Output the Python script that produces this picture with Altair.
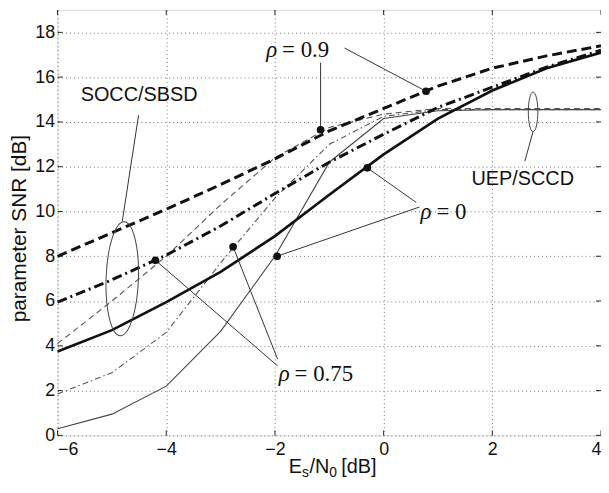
import altair as alt
import pandas as pd

# ---------------- data ----------------
x_vals = [-6, -5, -4, -3, -2, -1, 0, 1, 2, 3, 4]
socc_rho0 = [3.75, 4.7, 5.95, 7.3, 8.9, 10.75, 12.55, 14.15, 15.4, 16.4, 17.1]
socc_rho09 = [8.0, 9.05, 10.1, 11.2, 12.35, 13.6, 14.6, 15.6, 16.4, 16.95, 17.4]
socc_rho075 = [5.95, 6.95, 8.05, 9.35, 10.8, 12.2, 13.45, 14.65, 15.55, 16.45, 17.2]
uep_rho0 = [0.3, 0.95, 2.2, 4.65, 8.0, 12.2, 14.15, 14.5, 14.55, 14.55, 14.55]
uep_rho09 = [4.1, 6.0, 8.0, 10.3, 12.4, 13.75, 14.35, 14.6, 14.6, 14.6, 14.6]
uep_rho075 = [1.85, 2.8, 4.6, 7.7, 10.6, 13.0, 14.25, 14.55, 14.55, 14.55, 14.55]

x_ticks = [-6, -4, -2, 0, 2, 4]
y_ticks = [0, 2, 4, 6, 8, 10, 12, 14, 16, 18]

marker_x = [-1.16, 0.78, -0.30, -1.96, -4.20, -2.77]
marker_y = [13.65, 15.37, 11.95, 8.0, 7.82, 8.42]

leader_x1 = [-1.16, -0.72, 0.60, 0.66, -1.95, -1.95, -4.51, 2.60]
leader_y1 = [16.65, 17.30, 10.40, 10.20, 3.10, 3.40, 14.30, 12.25]
leader_x2 = [-1.16, 0.78, -0.30, -1.96, -4.20, -2.77, -4.81, 2.75]
leader_y2 = [13.65, 15.37, 11.95, 8.0, 7.82, 8.42, 9.55, 13.58]

group_text = ["SOCC/SBSD", "UEP/SCCD"]
group_x = [-4.5, 2.56]
group_y = [15.2, 11.43]

rho_value = ["= 0.9", "= 0", "= 0.75"]
rho_x = [-2.16, 0.68, -1.93]
rho_y = [17.23, 9.98, 2.72]

ellipse_x = [-4.81, 2.75]
ellipse_y = [7.0, 14.45]

# ---------------- layout ----------------
W, H = 548, 429

xs = alt.Scale(domain=[-6, 4], nice=False, zero=False)
ys = alt.Scale(domain=[0, 19], nice=False, zero=False)

X = alt.X("x:Q", scale=xs, axis=alt.Axis(
    values=x_ticks, title=None, grid=True, ticks=False, domain=False,
    labelFont="Liberation Sans", labelFontSize=18, labelColor="#111",
    labelPadding=5, gridDash=[1, 3], gridColor="#777", gridWidth=1))
Y = alt.Y("y:Q", scale=ys, axis=alt.Axis(
    values=y_ticks, title="parameter SNR [dB]", grid=True, ticks=False, domain=False,
    labelFont="Liberation Sans", labelFontSize=18, labelColor="#111",
    labelPadding=3, gridDash=[1, 3], gridColor="#777", gridWidth=1,
    titleFont="Liberation Sans", titleFontSize=21, titleFontWeight="normal",
    titleColor="#111", titleAngle=270, titleX=-38, titleY=220,
    titleAlign="center", titleBaseline="middle"))


def series(vals):
    return pd.DataFrame({"x": x_vals, "y": vals})


def line(vals, width, dash, color):
    kw = dict(strokeWidth=width, color=color)
    if dash:
        kw["strokeDash"] = dash
    return alt.Chart(series(vals)).mark_line(**kw).encode(x=X, y=Y)


layers = [
    line(uep_rho0, 1.1, None, "#444"),
    line(uep_rho09, 1.1, [6, 4], "#555"),
    line(uep_rho075, 1.1, [6, 3, 1.5, 3], "#555"),
    line(socc_rho0, 2.7, None, "#111"),
    line(socc_rho09, 3.0, [10, 5], "#111"),
    line(socc_rho075, 3.0, [10, 4, 2, 4], "#111"),
]

# inward ticks on all four sides
xt = pd.DataFrame({"x": x_ticks})
yt = pd.DataFrame({"y": y_ticks})
tick_style = dict(color="#222", strokeWidth=1)
layers += [
    alt.Chart(xt).mark_rule(**tick_style).encode(x=X, y=alt.value(H), y2=alt.value(H - 5)),
    alt.Chart(xt).mark_rule(**tick_style).encode(x=X, y=alt.value(0), y2=alt.value(5)),
    alt.Chart(yt).mark_rule(**tick_style).encode(y=Y, x=alt.value(0), x2=alt.value(5)),
    alt.Chart(yt).mark_rule(**tick_style).encode(y=Y, x=alt.value(W), x2=alt.value(W - 5)),
]

# leader lines
lead = pd.DataFrame({"x": leader_x1, "y": leader_y1, "x2": leader_x2, "y2": leader_y2})
layers.append(alt.Chart(lead).mark_rule(color="#333", strokeWidth=1).encode(
    x=X, y=Y, x2="x2:Q", y2="y2:Q"))

# markers
mk = pd.DataFrame({"x": marker_x, "y": marker_y})
layers.append(alt.Chart(mk).mark_circle(size=60, color="#111", opacity=1).encode(x=X, y=Y))


# ellipses (custom symbol path, unit coordinates)
def ellipse_path(a):
    k = 0.5523
    return (f"M0,-1 C{k*a:.4f},-1 {a:.4f},{-k} {a:.4f},0 "
            f"C{a:.4f},{k} {k*a:.4f},1 0,1 "
            f"C{-k*a:.4f},1 {-a:.4f},{k} {-a:.4f},0 "
            f"C{-a:.4f},{-k} {-k*a:.4f},-1 0,-1 Z")


e1 = pd.DataFrame({"x": [ellipse_x[0]], "y": [ellipse_y[0]]})
e2 = pd.DataFrame({"x": [ellipse_x[1]], "y": [ellipse_y[1]]})
layers.append(alt.Chart(e1).mark_point(shape=ellipse_path(16.3 / 57.5), size=(2 * 57.5) ** 2,
                                       filled=False, stroke="#444", strokeWidth=1, opacity=1,
                                       angle=2).encode(x=X, y=Y))
layers.append(alt.Chart(e2).mark_point(shape=ellipse_path(4.8 / 20.0), size=(2 * 20.0) ** 2,
                                       filled=False, stroke="#444", strokeWidth=1, opacity=1
                                       ).encode(x=X, y=Y))

# group labels
gl = pd.DataFrame({"x": group_x, "y": group_y, "t": group_text})
layers.append(alt.Chart(gl).mark_text(font="Liberation Sans", fontSize=20, color="#111",
                                      align="center", baseline="middle").encode(x=X, y=Y, text="t:N"))

# rho labels: italic rho + value
rl = pd.DataFrame({"x": rho_x, "y": rho_y, "t": rho_value})
layers.append(alt.Chart(rl).mark_text(font="Liberation Serif", fontSize=23, fontStyle="italic",
                                      color="#111", align="left", baseline="middle",
                                      text="ρ").encode(x=X, y=Y))
layers.append(alt.Chart(rl).mark_text(font="Liberation Serif", fontSize=23, color="#111",
                                      align="left", baseline="middle", dx=16).encode(x=X, y=Y, text="t:N"))


# x-axis title with subscripts: E_s/N_0 [dB]
def txt(s, px, py, size):
    return alt.Chart(pd.DataFrame({"d": [0]})).mark_text(
        text=s, font="Liberation Sans", fontSize=size, color="#111",
        align="left", baseline="alphabetic").encode(x=alt.value(px), y=alt.value(py))


base_y = 467
sub_y = 471
layers += [
    txt("E", 233, base_y, 20),
    txt("s", 246.5, sub_y, 14),
    txt("/N", 254, base_y, 20),
    txt("0", 274, sub_y, 14),
    txt("[dB]", 286, base_y, 20),
]

chart = alt.layer(*layers).properties(
    width=W, height=H,
    autosize=alt.AutoSizeParams(type="none"),
    padding={"left": 50, "top": 0, "right": 0, "bottom": 43},
).configure_view(stroke="#222", strokeWidth=1).configure(background="white")

chart.save("out.html", embed_options={"renderer": "svg", "actions": False})
